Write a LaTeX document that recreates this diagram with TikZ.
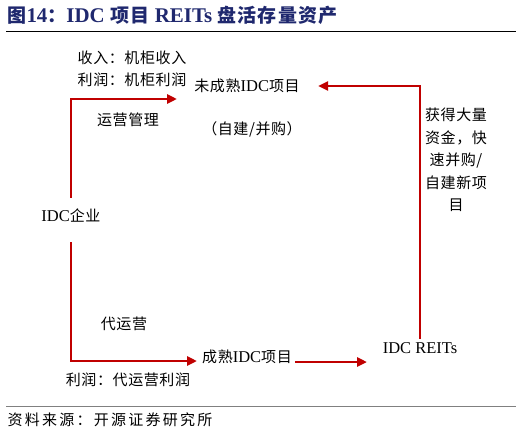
\documentclass[tikz,border=0pt]{standalone}
\usepackage{fontspec}
\setmainfont{Noto Sans CJK SC}[LetterSpace=4]
\newfontfamily\titlefont{Noto Sans CJK SC}[LetterSpace=6]
\newfontfamily\sourcefont{Noto Sans CJK SC}[LetterSpace=15]
\newfontfamily\westfont{Liberation Serif}[Scale=1.1]
\newcommand{\westtext}[1]{{\westfont #1}}
\usetikzlibrary{arrows.meta}
\tikzset{>={Triangle[length=10pt,width=9pt]}}
\definecolor{flowred}{RGB}{192,0,0}
\definecolor{titleblue}{RGB}{31,40,110}

\begin{document}
\begin{tikzpicture}[x=1pt, y=-1pt, align=center, font=\fontsize{15}{22.5}\selectfont,
    flow/.style={->, draw=flowred, line width=2.8pt}]
  \useasboundingbox (0,0) rectangle (522,436);
  % title and frame rules
  \node[anchor=west, text=titleblue, font=\titlefont\fontsize{19}{22}\selectfont\bfseries] (title) at (4,15) {图\westtext{14}：\westtext{IDC} 项目 \westtext{REITs} 盘活存量资产};
  \draw[line width=1.2pt] (6,31.5) -- (516,31.5);
  \draw[gray, line width=1pt] (6,406) -- (516,406);
  \node[anchor=west, font=\sourcefont\fontsize{15}{17}\selectfont] (source) at (4,420) {资料来源：开源证券研究所};

  \node (income) at (132,58) {收入：机柜收入};
  \node (profit_own) at (132,80) {利润：机柜利润};
  \node (immature) at (247,86) {未成熟\westtext{IDC}项目};
  \node (self_build) at (252,129) {（自建/并购）};
  \node (operate) at (128,120) {运营管理};
  \node (idc_firm) at (71,216) {\westtext{IDC}企业};
  \node (outsource) at (124,324) {代运营};
  \node (mature) at (247,357) {成熟\westtext{IDC}项目};
  \node (profit_fee) at (128,380) {利润：代运营利润};
  \node (reits) at (420,348) {\westtext{IDC REITs}};
  \node (funds) at (456,160) {获得大量\\资金，快\\速并购/\\自建新项\\目};

  \coordinate (up_tip) at (177,99);
  \coordinate (low_tip) at (197,361);
  \coordinate (reits_tip) at (367,362);
  \draw[flow, shorten <=8pt] (idc_firm.north) |- (up_tip);
  \draw[flow, shorten <=16pt] (idc_firm.south) |- (low_tip);
  \draw[flow] (mature.east |- reits_tip) -- (reits_tip);
  \draw[flow, shorten >=15pt] (reits.north) |- (immature.east);
\end{tikzpicture}
\end{document}
